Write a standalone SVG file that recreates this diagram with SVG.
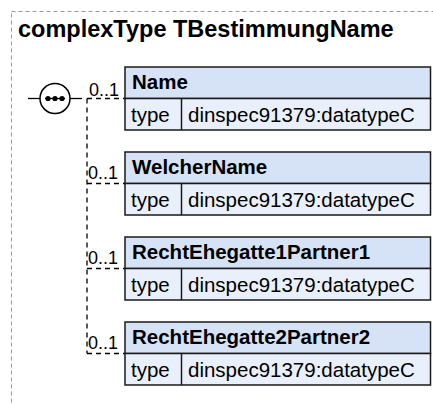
<svg xmlns="http://www.w3.org/2000/svg" width="433" height="405" viewBox="0 0 433 405">
<style>
text{font-family:"Liberation Sans",Arial,sans-serif;fill:#000}
.title{font-size:23.5px;font-weight:bold}
.hdr{font-size:20.5px;font-weight:bold}
.row{font-size:20.5px}
.card{font-size:18px}
.hbox{fill:#d6e3f7;stroke:#1a1a1a;stroke-width:1.5}
.tbox{fill:#e9f0fb;stroke:#1a1a1a;stroke-width:1.5}
.div{stroke:#1a1a1a;stroke-width:1.5}
.dash{fill:none;stroke:#000;stroke-width:1.3;stroke-dasharray:5,4}
.frame{fill:none;stroke:#999;stroke-width:1;stroke-dasharray:4,3}
.solid{fill:none;stroke:#000;stroke-width:1.3}
</style>
<rect class="frame" x="11.5" y="11.5" width="600" height="600"/>
<text class="title" x="18" y="37">complexType TBestimmungName</text>
<g id="sequence">
<line class="solid" x1="28" y1="98.5" x2="40" y2="98.5"/>
<circle cx="55" cy="98.5" r="15" fill="#fff" stroke="#000" stroke-width="1.5"/>
<line class="solid" x1="45" y1="98.5" x2="65" y2="98.5"/>
<circle cx="48" cy="98.5" r="2.6"/>
<circle cx="55" cy="98.5" r="2.6"/>
<circle cx="62" cy="98.5" r="2.6"/>
<line class="solid" x1="70" y1="98.5" x2="82" y2="98.5"/>
</g>
<g id="connectors">
<path class="dash" d="M87,98.5 V353.5"/>
<path class="dash" d="M87,98.5 H125"/>
<path class="dash" d="M87,183.5 H125"/>
<path class="dash" d="M87,268.5 H125"/>
<path class="dash" d="M87,353.5 H125"/>
<text class="card" x="89" y="96">0..1</text>
<text class="card" x="88" y="179">0..1</text>
<text class="card" x="88" y="264">0..1</text>
<text class="card" x="88" y="349">0..1</text>
</g>
<g id="Name">
<rect class="hbox" x="125" y="67" width="305.5" height="31.5"/>
<rect class="tbox" x="125" y="98.5" width="305.5" height="31.5"/>
<line class="div" x1="181.5" y1="98.5" x2="181.5" y2="130"/>
<text class="hdr" x="132" y="89">Name</text>
<text class="row" x="131" y="121.5">type</text>
<text class="row" x="188" y="121.5">dinspec91379:datatypeC</text>
</g>
<g id="WelcherName">
<rect class="hbox" x="125" y="152" width="305.5" height="31.5"/>
<rect class="tbox" x="125" y="183.5" width="305.5" height="31.5"/>
<line class="div" x1="181.5" y1="183.5" x2="181.5" y2="215"/>
<text class="hdr" x="132" y="174">WelcherName</text>
<text class="row" x="131" y="206.5">type</text>
<text class="row" x="188" y="206.5">dinspec91379:datatypeC</text>
</g>
<g id="RechtEhegatte1Partner1">
<rect class="hbox" x="125" y="237" width="305.5" height="31.5"/>
<rect class="tbox" x="125" y="268.5" width="305.5" height="31.5"/>
<line class="div" x1="181.5" y1="268.5" x2="181.5" y2="300"/>
<text class="hdr" x="132" y="259">RechtEhegatte1Partner1</text>
<text class="row" x="131" y="291.5">type</text>
<text class="row" x="188" y="291.5">dinspec91379:datatypeC</text>
</g>
<g id="RechtEhegatte2Partner2">
<rect class="hbox" x="125" y="322" width="305.5" height="31.5"/>
<rect class="tbox" x="125" y="353.5" width="305.5" height="31.5"/>
<line class="div" x1="181.5" y1="353.5" x2="181.5" y2="385"/>
<text class="hdr" x="132" y="344">RechtEhegatte2Partner2</text>
<text class="row" x="131" y="376.5">type</text>
<text class="row" x="188" y="376.5">dinspec91379:datatypeC</text>
</g>
</svg>
